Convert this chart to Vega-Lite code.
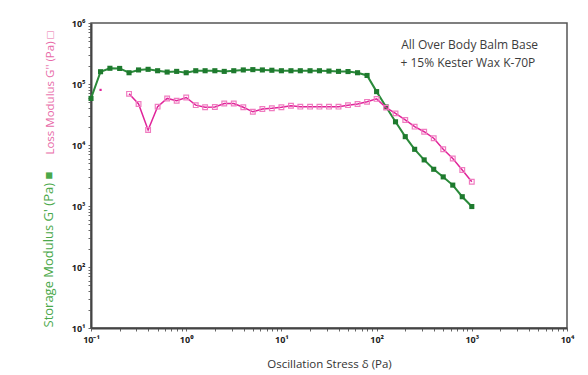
{
  "$schema": "https://vega.github.io/schema/vega-lite/v6.json",
  "width": 476,
  "height": 305,
  "autosize": "none",
  "padding": {"left": 91, "top": 23, "right": 21, "bottom": 47},
  "background": "white",
  "config": {
    "font": "Open Sans",
    "view": {"stroke": "#555555", "strokeWidth": 1.5},
    "axis": {"grid": false},
    "axisX": {
      "title": "Oscillation Stress δ (Pa)",
      "titleFont": "Open Sans",
      "titleFontSize": 11.5,
      "titleFontWeight": "normal",
      "titleColor": "#333333",
      "titleY": 30,
      "values": [0.1,0.2,0.3,0.4,0.5,0.6,0.7,0.8,0.9,1,2,3,4,5,6,7,8,9,10,20,30,40,50,60,70,80,90,100,200,300,400,500,600,700,800,900,1000,2000,3000,4000,5000,6000,7000,8000,9000,10000],
      "labelExpr": "datum.value==0.1?'10⁻¹':datum.value==1?'10⁰':datum.value==10?'10¹':datum.value==100?'10²':datum.value==1000?'10³':datum.value==10000?'10⁴':''",
      "labelOverlap": false,
      "labelFlush": false,
      "labelFontSize": 9,
      "labelFontWeight": "bold",
      "labelColor": "#222222",
      "labelPadding": 4,
      "tickSize": 3,
      "tickColor": "#666666",
      "domainColor": "#444444",
      "domainWidth": 2
    }
  },
  "datasets": {
    "modulus": [
      {"stress": 0.1, "modulus": 58000, "series": "storage", "seg": 1},
      {"stress": 0.126, "modulus": 159000, "series": "storage", "seg": 1},
      {"stress": 0.158, "modulus": 181000, "series": "storage", "seg": 1},
      {"stress": 0.2, "modulus": 180000, "series": "storage", "seg": 1},
      {"stress": 0.251, "modulus": 153000, "series": "storage", "seg": 1},
      {"stress": 0.316, "modulus": 170000, "series": "storage", "seg": 1},
      {"stress": 0.398, "modulus": 174000, "series": "storage", "seg": 1},
      {"stress": 0.501, "modulus": 165000, "series": "storage", "seg": 1},
      {"stress": 0.631, "modulus": 157000, "series": "storage", "seg": 1},
      {"stress": 0.794, "modulus": 161000, "series": "storage", "seg": 1},
      {"stress": 1.0, "modulus": 153000, "series": "storage", "seg": 1},
      {"stress": 1.26, "modulus": 165000, "series": "storage", "seg": 1},
      {"stress": 1.58, "modulus": 165000, "series": "storage", "seg": 1},
      {"stress": 2.0, "modulus": 165000, "series": "storage", "seg": 1},
      {"stress": 2.51, "modulus": 161000, "series": "storage", "seg": 1},
      {"stress": 3.16, "modulus": 165000, "series": "storage", "seg": 1},
      {"stress": 3.98, "modulus": 170000, "series": "storage", "seg": 1},
      {"stress": 5.01, "modulus": 172000, "series": "storage", "seg": 1},
      {"stress": 6.31, "modulus": 170000, "series": "storage", "seg": 1},
      {"stress": 7.94, "modulus": 168000, "series": "storage", "seg": 1},
      {"stress": 10, "modulus": 165000, "series": "storage", "seg": 1},
      {"stress": 12.6, "modulus": 165000, "series": "storage", "seg": 1},
      {"stress": 15.8, "modulus": 165000, "series": "storage", "seg": 1},
      {"stress": 20, "modulus": 165000, "series": "storage", "seg": 1},
      {"stress": 25.1, "modulus": 165000, "series": "storage", "seg": 1},
      {"stress": 31.6, "modulus": 163000, "series": "storage", "seg": 1},
      {"stress": 39.8, "modulus": 161000, "series": "storage", "seg": 1},
      {"stress": 50.1, "modulus": 160000, "series": "storage", "seg": 1},
      {"stress": 63.1, "modulus": 153000, "series": "storage", "seg": 1},
      {"stress": 79.4, "modulus": 138000, "series": "storage", "seg": 1},
      {"stress": 100, "modulus": 75000, "series": "storage", "seg": 1},
      {"stress": 126, "modulus": 42000, "series": "storage", "seg": 1},
      {"stress": 158, "modulus": 24000, "series": "storage", "seg": 1},
      {"stress": 200, "modulus": 13700, "series": "storage", "seg": 1},
      {"stress": 251, "modulus": 8500, "series": "storage", "seg": 1},
      {"stress": 316, "modulus": 5700, "series": "storage", "seg": 1},
      {"stress": 398, "modulus": 4000, "series": "storage", "seg": 1},
      {"stress": 501, "modulus": 3000, "series": "storage", "seg": 1},
      {"stress": 631, "modulus": 2200, "series": "storage", "seg": 1},
      {"stress": 794, "modulus": 1420, "series": "storage", "seg": 1},
      {"stress": 1000, "modulus": 980, "series": "storage", "seg": 1},
      {"stress": 0.126, "modulus": 80000, "series": "loss", "seg": 0},
      {"stress": 0.251, "modulus": 69000, "series": "loss", "seg": 1},
      {"stress": 0.316, "modulus": 47000, "series": "loss", "seg": 1},
      {"stress": 0.398, "modulus": 17600, "series": "loss", "seg": 1},
      {"stress": 0.501, "modulus": 42500, "series": "loss", "seg": 1},
      {"stress": 0.631, "modulus": 58000, "series": "loss", "seg": 1},
      {"stress": 0.794, "modulus": 53000, "series": "loss", "seg": 1},
      {"stress": 1.0, "modulus": 60000, "series": "loss", "seg": 1},
      {"stress": 1.26, "modulus": 45000, "series": "loss", "seg": 1},
      {"stress": 1.58, "modulus": 41500, "series": "loss", "seg": 1},
      {"stress": 2.0, "modulus": 42000, "series": "loss", "seg": 1},
      {"stress": 2.51, "modulus": 48000, "series": "loss", "seg": 1},
      {"stress": 3.16, "modulus": 48000, "series": "loss", "seg": 1},
      {"stress": 3.98, "modulus": 41500, "series": "loss", "seg": 1},
      {"stress": 5.01, "modulus": 35000, "series": "loss", "seg": 1},
      {"stress": 6.31, "modulus": 39000, "series": "loss", "seg": 1},
      {"stress": 7.94, "modulus": 40000, "series": "loss", "seg": 1},
      {"stress": 10, "modulus": 41500, "series": "loss", "seg": 1},
      {"stress": 12.6, "modulus": 44000, "series": "loss", "seg": 1},
      {"stress": 15.8, "modulus": 42500, "series": "loss", "seg": 1},
      {"stress": 20, "modulus": 42500, "series": "loss", "seg": 1},
      {"stress": 25.1, "modulus": 42500, "series": "loss", "seg": 1},
      {"stress": 31.6, "modulus": 42500, "series": "loss", "seg": 1},
      {"stress": 39.8, "modulus": 42500, "series": "loss", "seg": 1},
      {"stress": 50.1, "modulus": 45000, "series": "loss", "seg": 1},
      {"stress": 63.1, "modulus": 47000, "series": "loss", "seg": 1},
      {"stress": 79.4, "modulus": 51000, "series": "loss", "seg": 1},
      {"stress": 100, "modulus": 57000, "series": "loss", "seg": 1},
      {"stress": 126, "modulus": 41000, "series": "loss", "seg": 1},
      {"stress": 158, "modulus": 33000, "series": "loss", "seg": 1},
      {"stress": 200, "modulus": 25700, "series": "loss", "seg": 1},
      {"stress": 251, "modulus": 20000, "series": "loss", "seg": 1},
      {"stress": 316, "modulus": 16500, "series": "loss", "seg": 1},
      {"stress": 398, "modulus": 12900, "series": "loss", "seg": 1},
      {"stress": 501, "modulus": 8500, "series": "loss", "seg": 1},
      {"stress": 631, "modulus": 6000, "series": "loss", "seg": 1},
      {"stress": 794, "modulus": 3900, "series": "loss", "seg": 1},
      {"stress": 1000, "modulus": 2500, "series": "loss", "seg": 1}
    ]
  },
  "layer": [
    {
      "data": {"name": "modulus"},
      "transform": [{"filter": "datum.series === 'storage'"}],
      "mark": {"type": "line", "color": "#2a8a3a", "strokeWidth": 2},
      "encoding": {
        "x": {"field": "stress", "type": "quantitative", "title": "Oscillation Stress δ (Pa)", "scale": {"type": "log", "domain": [0.1, 10000], "nice": false}},
        "y": {
          "field": "modulus",
          "type": "quantitative",
          "scale": {"type": "log", "domain": [10, 1000000], "nice": false},
          "axis": {
            "orient": "left",
            "title": "Storage Modulus G' (Pa) ■",
            "titleColor": "#4aa84a",
            "titleFontSize": 13,
            "titleFontWeight": "normal",
            "titleAnchor": "start",
            "titleX": -36,
            "titleY": 304,
            "titleAlign": "left",
            "values": [10,20,30,40,50,60,70,80,90,100,200,300,400,500,600,700,800,900,1000,2000,3000,4000,5000,6000,7000,8000,9000,10000,20000,30000,40000,50000,60000,70000,80000,90000,100000,200000,300000,400000,500000,600000,700000,800000,900000,1000000],
            "labelExpr": "datum.value==10?'10¹':datum.value==100?'10²':datum.value==1000?'10³':datum.value==10000?'10⁴':datum.value==100000?'10⁵':datum.value==1000000?'10⁶':''",
            "labelOverlap": false,
            "labelFlush": false,
            "labelFontSize": 9,
            "labelFontWeight": "bold",
            "labelColor": "#222222",
            "labelPadding": 3,
            "tickSize": 3,
            "tickColor": "#666666",
            "domainColor": "#444444",
            "domainWidth": 2
          }
        }
      }
    },
    {
      "data": {"name": "modulus"},
      "transform": [{"filter": "datum.series === 'storage'"}],
      "mark": {"type": "square", "color": "#1e7a2e", "filled": true, "size": 26, "opacity": 1},
      "encoding": {
        "x": {"field": "stress", "type": "quantitative", "title": "Oscillation Stress δ (Pa)", "scale": {"type": "log", "domain": [0.1, 10000], "nice": false}},
        "y": {"field": "modulus", "type": "quantitative", "scale": {"type": "log", "domain": [10, 1000000], "nice": false}, "axis": null}
      }
    },
    {
      "data": {"name": "modulus"},
      "transform": [{"filter": "datum.series === 'loss' && datum.seg === 1"}],
      "mark": {"type": "line", "color": "#e0249a", "strokeWidth": 1.5},
      "encoding": {
        "x": {"field": "stress", "type": "quantitative", "title": "Oscillation Stress δ (Pa)", "scale": {"type": "log", "domain": [0.1, 10000], "nice": false}},
        "y": {
          "field": "modulus",
          "type": "quantitative",
          "scale": {"type": "log", "domain": [10, 1000000], "nice": false},
          "axis": {
            "orient": "left",
            "title": "Loss Modulus G'' (Pa) □",
            "titleColor": "#e86aa8",
            "titleFontSize": 11.5,
            "titleFontWeight": "normal",
            "titleAnchor": "end",
            "titleX": -36,
            "titleY": 8,
            "titleAlign": "right",
            "labels": false,
            "ticks": false,
            "domain": false
          }
        }
      }
    },
    {
      "data": {"name": "modulus"},
      "transform": [{"filter": "datum.series === 'loss' && datum.seg === 1"}],
      "mark": {"type": "square", "color": "#f07cc0", "filled": false, "strokeWidth": 1.2, "size": 22, "opacity": 1},
      "encoding": {
        "x": {"field": "stress", "type": "quantitative", "title": "Oscillation Stress δ (Pa)", "scale": {"type": "log", "domain": [0.1, 10000], "nice": false}},
        "y": {"field": "modulus", "type": "quantitative", "scale": {"type": "log", "domain": [10, 1000000], "nice": false}, "axis": null}
      }
    },
    {
      "data": {"name": "modulus"},
      "transform": [{"filter": "datum.series === 'loss' && datum.seg === 0"}],
      "mark": {"type": "square", "color": "#e0249a", "filled": true, "size": 5, "opacity": 1},
      "encoding": {
        "x": {"field": "stress", "type": "quantitative", "title": "Oscillation Stress δ (Pa)", "scale": {"type": "log", "domain": [0.1, 10000], "nice": false}},
        "y": {"field": "modulus", "type": "quantitative", "scale": {"type": "log", "domain": [10, 1000000], "nice": false}, "axis": null}
      }
    },
    {
      "data": {"values": [{"note": "All Over Body Balm Base"}]},
      "mark": {"type": "text", "align": "center", "baseline": "middle", "fontSize": 12, "fontWeight": "normal", "color": "#3c3c3c", "font": "Open Sans"},
      "encoding": {
        "x": {"datum": 950, "type": "quantitative", "title": "Oscillation Stress δ (Pa)"},
        "y": {"datum": 440000, "type": "quantitative", "axis": null},
        "text": {"field": "note"}
      }
    },
    {
      "data": {"values": [{"note": "+ 15% Kester Wax K-70P"}]},
      "mark": {"type": "text", "align": "center", "baseline": "middle", "fontSize": 12, "fontWeight": "normal", "color": "#3c3c3c", "font": "Open Sans"},
      "encoding": {
        "x": {"datum": 910, "type": "quantitative", "title": "Oscillation Stress δ (Pa)"},
        "y": {"datum": 220000, "type": "quantitative", "axis": null},
        "text": {"field": "note"}
      }
    }
  ],
  "resolve": {"axis": {"y": "independent"}}
}
